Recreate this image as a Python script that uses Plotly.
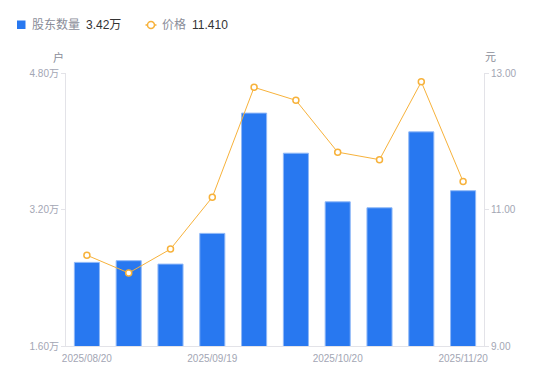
import plotly.graph_objects as go

dates = ["2025/08/20", "2025/08/31", "2025/09/10", "2025/09/19", "2025/09/30",
         "2025/10/10", "2025/10/20", "2025/10/31", "2025/11/10", "2025/11/20"]
holders = [2.58, 2.60, 2.56, 2.92, 4.33, 3.86, 3.29, 3.22, 4.11, 3.42]  # 万户
price = [10.33, 10.07, 10.42, 11.18, 12.79, 12.60, 11.84, 11.73, 12.87, 11.41]
shown_ticks = ["2025/08/20", "2025/09/19", "2025/10/20", "2025/11/20"]
left_ticks = [1.6, 3.2, 4.8]
left_labels = ["1.60万", "3.20万", "4.80万"]
right_ticks = [9, 11, 13]
right_labels = ["9.00", "11.00", "13.00"]

W, H = 550, 381
ML, MR, MT, MB = 66, 66, 73, 35
PW, PH = W - ML - MR, H - MT - MB


def px(x):
    return (x - ML) / PW


def py(y):
    return (H - MB - y) / PH


FONT = "'Liberation Sans', Arial, 'Noto Sans CJK SC', sans-serif"
axis_font = dict(family=FONT, size=10, color="#a3a6b4")
BLUE = "#2878f0"
ORANGE = "#f7b23b"

fig = go.Figure()
fig.add_trace(go.Bar(
    x=dates, y=holders, name="股东数量",
    marker=dict(color=BLUE, line=dict(color="#8fb8f7", width=1)),
    width=0.6, yaxis="y",
))
fig.add_trace(go.Scatter(
    x=dates, y=price, name="价格",
    mode="lines+markers", yaxis="y2",
    line=dict(color=ORANGE, width=1),
    marker=dict(symbol="circle", size=6, color="white", line=dict(color=ORANGE, width=1.5)),
))

shapes = [
    dict(type="rect", xref="paper", yref="paper", x0=px(17), x1=px(25.5), y0=py(29), y1=py(20.5),
         fillcolor=BLUE, line=dict(width=0)),
    dict(type="line", xref="paper", yref="paper", x0=px(145.5), x1=px(156.5), y0=py(25), y1=py(25),
         line=dict(color=ORANGE, width=1.5)),
    dict(type="circle", xref="paper", yref="paper", x0=px(147.5), x1=px(154.5), y0=py(28.5), y1=py(21.5),
         fillcolor="white", line=dict(color=ORANGE, width=1.5)),
]


def label(text, x, y, color, size=12, xanchor="left"):
    return dict(text=text, xref="paper", yref="paper", x=px(x), y=py(y), xanchor=xanchor,
                yanchor="middle", showarrow=False, borderpad=0,
                font=dict(family=FONT, size=size, color=color))


annotations = [
    label("股东数量", 30.5, 25, "#8a8d99"),
    label("3.42万", 84.5, 25, "#333333"),
    label("价格", 160.5, 25, "#8a8d99"),
    label("11.410", 190.5, 25, "#333333"),
    label("户", 58, 57, "#8a8d99", size=11, xanchor="center"),
    label("元", 490, 57, "#8a8d99", size=11, xanchor="center"),
]

fig.update_layout(
    width=W, height=H,
    margin=dict(l=ML, r=MR, t=MT, b=MB, autoexpand=False),
    plot_bgcolor="white", paper_bgcolor="white",
    font=dict(family=FONT, size=12, color="#666"),
    showlegend=False,
    bargap=0.4,
    shapes=shapes,
    annotations=annotations,
    xaxis=dict(
        type="category", range=[-0.5, len(dates) - 0.5],
        showgrid=False, showline=True, linecolor="#e3e3e8", linewidth=1,
        tickmode="array", tickvals=shown_ticks, ticktext=shown_ticks,
        ticks="outside", ticklen=3, tickcolor="rgba(0,0,0,0)",
        tickfont=axis_font, automargin=False,
    ),
    yaxis=dict(
        range=[1.6, 4.8], tickvals=left_ticks, ticktext=left_labels,
        showgrid=False, zeroline=False, showline=True, linecolor="#e3e3e8",
        ticks="outside", ticklen=4, tickcolor="#e3e3e8", tickfont=axis_font, automargin=False,
    ),
    yaxis2=dict(
        range=[9, 13], tickvals=right_ticks, ticktext=right_labels,
        overlaying="y", side="right",
        showgrid=False, zeroline=False, showline=True, linecolor="#e3e3e8",
        ticks="outside", ticklen=4, tickcolor="#e3e3e8", tickfont=axis_font, automargin=False,
    ),
)

fig.write_html("out.html", config={"displayModeBar": False},
               post_script="document.body.style.margin='0';")
